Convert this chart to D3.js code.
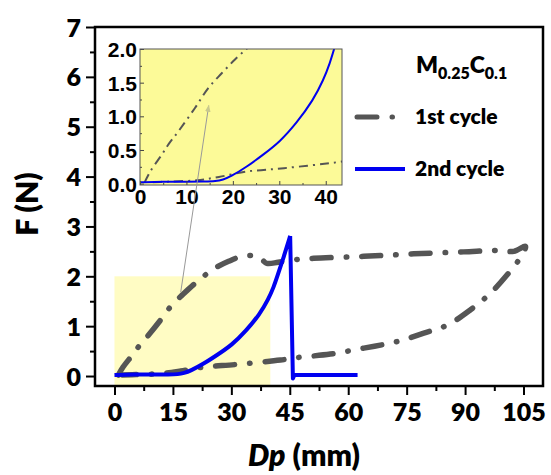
<!DOCTYPE html>
<html>
<head>
<meta charset="utf-8">
<script src="https://cdn.jsdelivr.net/npm/d3@7"></script>
<style>
  body { margin: 0; background: #fff; }
  text { font-family: Lato, "Open Sans", sans-serif; font-weight: 800; fill: #000; }
  .inset text { font-family: "Liberation Sans", Arial, sans-serif; font-weight: bold; }
</style>
</head>
<body>
<svg id="chart"></svg>
<script>
// values
const cycle1X = [1, 2.2, 4.7, 6.2, 8.2, 11.8, 14.7, 17.6, 20.4, 22.9, 25, 29.3, 32.7, 36.1, 37.9, 39.1, 42, 46, 51.1, 64, 76.8, 89.6, 98.2, 102.5, 105.5,
  103.8, 100.8, 96.5, 91.4, 85.4, 79.4, 72.5, 64, 55.4, 46.9, 42.6, 31, 23, 17, 12.2, 6, 2]
const cycle1Y = [0.02, 0.18, 0.43, 0.59, 0.77, 1.12, 1.42, 1.64, 1.84, 2.0, 2.13, 2.30, 2.40, 2.41, 2.33, 2.26, 2.28, 2.33, 2.36, 2.40, 2.45, 2.49, 2.52, 2.50, 2.60,
  2.33, 2.03, 1.66, 1.33, 1.02, 0.86, 0.69, 0.56, 0.44, 0.37, 0.32, 0.23, 0.18, 0.1, 0.05, 0.03, 0.02]
const cycle2X = [0, 5, 10, 14, 16.3, 17.9, 19.4, 23, 26.5, 30.1, 33.7, 37.3, 39.5, 40.9, 41.8, 43.5, 45.1, 45.8, 46.2, 50, 55, 62.4]
const cycle2Y = [0.02, 0.03, 0.03, 0.03, 0.035, 0.06, 0.10, 0.25, 0.43, 0.62, 0.90, 1.24, 1.54, 1.79, 2.0, 2.4, 2.81, -0.05, 0.02, 0.02, 0.02, 0.02]

const xTicks = [0, 15, 30, 45, 60, 75, 90, 105]
const yTicks = [0, 1, 2, 3, 4, 5, 6, 7]
const insetXTicks = [0, 10, 20, 30, 40]
const insetYTicks = [0, 0.5, 1.0, 1.5, 2.0]
const zoomBox = { x: [0, 40], y: [-0.2, 2] }
const seriesNames = ['1st cycle', '2nd cycle']

const width = 551
const height = 475
const grey = '#555555'
const blue = '#0000f0'

const svg = d3.select('#chart')
  .attr('width', width)
  .attr('height', height)

const x = d3.scaleLinear().domain([-5, 110]).range([95, 543])
const y = d3.scaleLinear().domain([-0.2, 7]).range([386, 27])

const c1 = cycle1X.map((d, i) => [d, cycle1Y[i]])
const c2 = cycle2X.map((d, i) => [d, cycle2Y[i]])
// the rise is smooth, the drop after the peak is a straight fall
const peak = d3.maxIndex(cycle2Y)
const c2rise = c2.slice(0, peak + 1)
const c2drop = c2.slice(peak)

// highlighted region
svg.append('rect')
  .attr('x', x(zoomBox.x[0]))
  .attr('y', y(zoomBox.y[1]))
  .attr('width', x(zoomBox.x[1]) - x(zoomBox.x[0]))
  .attr('height', y(zoomBox.y[0]) - y(zoomBox.y[1]))
  .attr('fill', '#fffcc4')

const line1 = d3.line().x(d => x(d[0])).y(d => y(d[1])).curve(d3.curveCatmullRom.alpha(0.5))
const lineRise = d3.line().x(d => x(d[0])).y(d => y(d[1])).curve(d3.curveBasis)
const lineLin = d3.line().x(d => x(d[0])).y(d => y(d[1]))

svg.append('path')
  .attr('d', line1(c1))
  .attr('fill', 'none')
  .attr('stroke', grey)
  .attr('stroke-width', 5.5)
  .attr('stroke-linecap', 'round')
  .attr('stroke-dasharray', '19,15,0.5,15')

svg.append('path')
  .attr('d', lineRise(c2rise) + lineLin(c2drop))
  .attr('fill', 'none')
  .attr('stroke', blue)
  .attr('stroke-width', 4)
  .attr('stroke-linejoin', 'round')

// axes
const xAxis = svg.append('g')
  .attr('transform', `translate(0,${y.range()[0]})`)
  .call(d3.axisBottom(x).tickValues(xTicks).tickSize(9).tickPadding(8))
const xMinor = svg.append('g')
  .attr('transform', `translate(0,${y.range()[0]})`)
  .call(d3.axisBottom(x).tickValues(xTicks.map(d => d + 7.5).filter(d => d < 110)).tickSize(5).tickFormat(''))
const yAxis = svg.append('g')
  .attr('transform', `translate(${x.range()[0]},0)`)
  .call(d3.axisLeft(y).tickValues(yTicks).tickSize(9).tickPadding(5))
const yMinor = svg.append('g')
  .attr('transform', `translate(${x.range()[0]},0)`)
  .call(d3.axisLeft(y).tickValues(yTicks.slice(0, -1).map(d => d + 0.5)).tickSize(5).tickFormat(''))

for (const g of [xAxis, xMinor, yAxis, yMinor]) {
  g.select('.domain').remove()
  g.selectAll('line').attr('stroke', '#000').attr('stroke-width', 2)
  g.selectAll('text').style('font-size', '25px').style('font-family', 'Lato, sans-serif').style('font-weight', 800)
}
yAxis.selectAll('text').attr('dy', '0.36em')

// frame
svg.append('rect')
  .attr('x', x.range()[0])
  .attr('y', y.range()[1])
  .attr('width', x.range()[1] - x.range()[0])
  .attr('height', y.range()[0] - y.range()[1])
  .attr('fill', 'none')
  .attr('stroke', '#000')
  .attr('stroke-width', 2.5)

// axis titles
svg.append('text')
  .attr('transform', 'translate(38,204) rotate(-90)')
  .attr('text-anchor', 'middle')
  .style('font-size', '30px')
  .text('F (N)')

const xt = svg.append('text')
  .attr('x', 304)
  .attr('y', 466)
  .attr('text-anchor', 'middle')
  .style('font-size', '30px')
xt.append('tspan').style('font-style', 'italic').text('Dp')
xt.append('tspan').text(' (mm)')

// inset
const ix = d3.scaleLinear().domain([0, 43.5]).range([140, 342])
const iy = d3.scaleLinear().domain([-0.02, 2]).range([185, 49])

const inset = svg.append('g').attr('class', 'inset')

inset.append('defs').append('clipPath').attr('id', 'insetClip')
  .append('rect')
  .attr('x', ix.range()[0]).attr('y', iy.range()[1])
  .attr('width', ix.range()[1] - ix.range()[0])
  .attr('height', iy.range()[0] - iy.range()[1])

inset.append('rect')
  .attr('x', ix.range()[0]).attr('y', iy.range()[1])
  .attr('width', ix.range()[1] - ix.range()[0])
  .attr('height', iy.range()[0] - iy.range()[1])
  .attr('fill', '#fcfa98')

const iline1 = d3.line().x(d => ix(d[0])).y(d => iy(d[1])).curve(d3.curveCatmullRom.alpha(0.5))
const ilineRise = d3.line().x(d => ix(d[0])).y(d => iy(d[1])).curve(d3.curveBasis)
const ilineLin = d3.line().x(d => ix(d[0])).y(d => iy(d[1]))

const plot = inset.append('g').attr('clip-path', 'url(#insetClip)')
plot.append('path')
  .attr('d', iline1(c1))
  .attr('fill', 'none')
  .attr('stroke', grey)
  .attr('stroke-width', 2)
  .attr('stroke-dasharray', '9,5,2,5')
plot.append('path')
  .attr('d', ilineRise(c2rise) + ilineLin(c2drop))
  .attr('fill', 'none')
  .attr('stroke', blue)
  .attr('stroke-width', 2)

const ixAxis = inset.append('g')
  .attr('transform', `translate(0,${iy.range()[0]})`)
  .call(d3.axisBottom(ix).tickValues(insetXTicks).tickSize(-4).tickPadding(4))
const ixMinor = inset.append('g')
  .attr('transform', `translate(0,${iy.range()[0]})`)
  .call(d3.axisBottom(ix).tickValues([5, 15, 25, 35]).tickSize(-2).tickFormat(''))
const iyAxis = inset.append('g')
  .attr('transform', `translate(${ix.range()[0]},0)`)
  .call(d3.axisLeft(iy).tickValues(insetYTicks).tickSize(-4).tickPadding(3).tickFormat(d3.format('.1f')))
const iyMinor = inset.append('g')
  .attr('transform', `translate(${ix.range()[0]},0)`)
  .call(d3.axisLeft(iy).tickValues([0.25, 0.75, 1.25, 1.75]).tickSize(-2).tickFormat(''))

for (const g of [ixAxis, ixMinor, iyAxis, iyMinor]) {
  g.select('.domain').remove()
  g.selectAll('line').attr('stroke', '#444').attr('stroke-width', 1)
  g.selectAll('text').style('font-size', '21px').style('font-family', '"Liberation Sans", Arial, sans-serif').style('font-weight', 'bold')
}
iyAxis.selectAll('text').attr('dy', '0.36em')
ixAxis.selectAll('text').attr('dy', '0.72em')

inset.append('rect')
  .attr('x', ix.range()[0]).attr('y', iy.range()[1])
  .attr('width', ix.range()[1] - ix.range()[0])
  .attr('height', iy.range()[0] - iy.range()[1])
  .attr('fill', 'none')
  .attr('stroke', '#555')
  .attr('stroke-width', 1)

// pointer arrow from highlighted region to inset
svg.append('defs').append('marker')
  .attr('id', 'head')
  .attr('viewBox', '0 0 10 10')
  .attr('refX', 9).attr('refY', 5)
  .attr('markerWidth', 7).attr('markerHeight', 9)
  .attr('orient', 'auto')
  .append('path')
  .attr('d', 'M0,1 L10,5 L0,9 Z')
  .attr('fill', '#c9c98c')

svg.append('line')
  .attr('x1', x(17)).attr('y1', y(1.68))
  .attr('x2', ix(14.8)).attr('y2', iy(1.16))
  .attr('stroke', '#999')
  .attr('stroke-width', 1)
  .attr('marker-end', 'url(#head)')

// legend
const title = svg.append('text').attr('x', 416).attr('y', 73).style('font-size', '23px')
title.append('tspan').text('M')
title.append('tspan').attr('dy', 6).style('font-size', '16px').text('0.25')
title.append('tspan').attr('dy', -6).text('C')
title.append('tspan').attr('dy', 6).style('font-size', '16px').text('0.1')

const legend = svg.append('g')
legend.append('line')
  .attr('x1', 357).attr('x2', 399).attr('y1', 117).attr('y2', 117)
  .attr('stroke', grey).attr('stroke-width', 5).attr('stroke-linecap', 'round')
  .attr('stroke-dasharray', '20,15,0.5,15')
legend.append('line')
  .attr('x1', 355).attr('x2', 405).attr('y1', 169).attr('y2', 169)
  .attr('stroke', blue).attr('stroke-width', 4)
legend.selectAll('text.lab')
  .data(seriesNames)
  .enter().append('text')
  .attr('class', 'lab')
  .attr('x', 415)
  .attr('y', (d, i) => 117 + i * 52)
  .attr('dy', '0.35em')
  .style('font-size', '21px')
  .text(d => d)
</script>
</body>
</html>
